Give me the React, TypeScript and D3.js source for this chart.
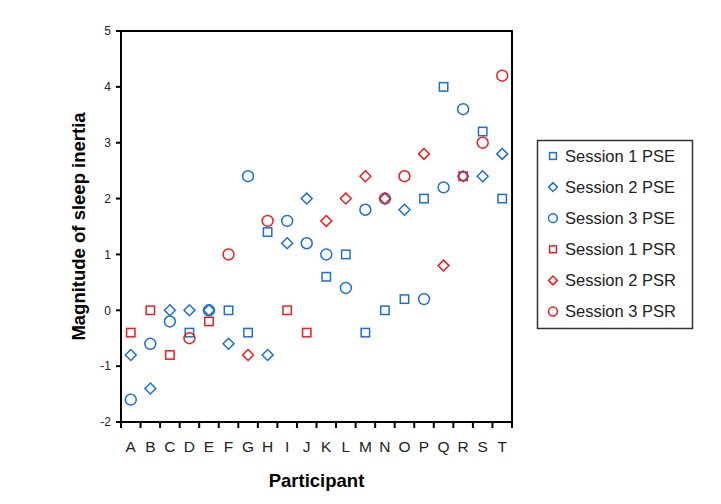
import React from "react";
import * as d3 from "d3";

const participants = ["A","B","C","D","E","F","G","H","I","J","K","L","M","N","O","P","Q","R","S","T"];
const session1PSE: (number | null)[] = [null,null,null,-0.4,null,0,-0.4,1.4,null,null,0.6,1.0,-0.4,0,0.2,2.0,4.0,null,3.2,2.0];
const session2PSE: (number | null)[] = [-0.8,-1.4,0,0,0,-0.6,null,-0.8,1.2,2.0,null,null,null,null,1.8,null,null,2.4,2.4,2.8];
const session3PSE: (number | null)[] = [-1.6,-0.6,-0.2,null,0,null,2.4,null,1.6,1.2,1.0,0.4,1.8,2.0,null,0.2,2.2,3.6,null,null];
const session1PSR: (number | null)[] = [-0.4,0,-0.8,null,-0.2,null,null,null,0,-0.4,null,null,null,null,null,null,null,2.4,null,null];
const session2PSR: (number | null)[] = [null,null,null,null,null,null,-0.8,null,null,null,1.6,2.0,2.4,2.0,null,2.8,0.8,null,null,null];
const session3PSR: (number | null)[] = [null,null,null,-0.5,null,1.0,null,1.6,null,null,null,null,null,null,2.4,null,null,null,3.0,4.2];
const yTicks = [-2,-1,0,1,2,3,4,5];

const BLUE = "#1b6fd3";
const RED = "#f01c1c";

const series = [
  { name: "Session 1 PSE", values: session1PSE, shape: "square", color: BLUE },
  { name: "Session 2 PSE", values: session2PSE, shape: "diamond", color: BLUE },
  { name: "Session 3 PSE", values: session3PSE, shape: "circle", color: BLUE },
  { name: "Session 1 PSR", values: session1PSR, shape: "square", color: RED },
  { name: "Session 2 PSR", values: session2PSR, shape: "diamond", color: RED },
  { name: "Session 3 PSR", values: session3PSR, shape: "circle", color: RED },
];

function Marker({ shape, x, y, color, s }: { shape: string; x: number; y: number; color: string; s: number }) {
  const sw = 1.5;
  if (shape === "square") {
    const h = s * 0.8;
    return <rect x={x - h / 2} y={y - h / 2} width={h} height={h} fill="none" stroke={color} strokeWidth={sw} />;
  }
  if (shape === "diamond") {
    const h = s * 0.52;
    return <path d={`M${x},${y - h}L${x + h},${y}L${x},${y + h}L${x - h},${y}Z`} fill="none" stroke={color} strokeWidth={sw} />;
  }
  return <circle cx={x} cy={y} r={s * 0.52} fill="none" stroke={color} strokeWidth={sw} />;
}

export default function App() {
  const left = 121, right = 512, top = 31, bottom = 422;
  const x = d3.scaleBand<string>().domain(participants).range([left, right]).padding(0);
  const y = d3.scaleLinear().domain([-2, 5]).range([bottom, top]);
  const bw = x.bandwidth();
  const xTickPos = participants.map((p) => x(p) as number).concat([right]);
  const font = "Arial, 'Liberation Sans', sans-serif";

  return (
    <svg width={721} height={504} style={{ position: "absolute", left: 0, top: 0, background: "#fff" }} fontFamily={font}>
      {/* frame */}
      <rect x={left} y={top} width={right - left} height={bottom - top} fill="none" stroke="#000" strokeWidth={2} />
      {/* y ticks */}
      {yTicks.map((t) => (
        <g key={t}>
          <line x1={left - 5} x2={left} y1={y(t)} y2={y(t)} stroke="#000" strokeWidth={2} />
          <text x={left - 10} y={y(t)} dy="0.36em" textAnchor="end" fontSize={12} fill="#222">{t}</text>
        </g>
      ))}
      {/* x ticks */}
      {xTickPos.map((p, i) => (
        <line key={i} x1={p} x2={p} y1={bottom} y2={bottom + 6} stroke="#000" strokeWidth={2} />
      ))}
      {participants.map((p) => (
        <text key={p} x={(x(p) as number) + bw / 2} y={452} textAnchor="middle" fontSize={15.5} fill="#222">{p}</text>
      ))}
      {/* axis titles */}
      <text x={(left + right) / 2} y={487} textAnchor="middle" fontSize={18.5} fontWeight="bold" fill="#000">Participant</text>
      <text transform={`translate(85,${(top + bottom) / 2}) rotate(-90)`} textAnchor="middle" fontSize={18.5} fontWeight="bold" fill="#000">Magnitude of sleep inertia</text>
      {/* points */}
      {series.map((s) => (
        <g key={s.name}>
          {s.values.map((v, i) =>
            v === null ? null : (
              <Marker key={i} shape={s.shape} x={(x(participants[i]) as number) + bw / 2} y={y(v)} color={s.color} s={10.5} />
            )
          )}
        </g>
      ))}
      {/* legend */}
      <rect x={537.5} y={140.5} width={155} height={188} fill="#fff" stroke="#333" strokeWidth={1.5} />
      {series.map((s, i) => {
        const cy = 156 + i * 31.1;
        return (
          <g key={s.name}>
            <Marker shape={s.shape} x={553} y={cy} color={s.color} s={8.5} />
            <text x={565} y={cy} dy="0.36em" fontSize={16.5} fill="#222">{s.name}</text>
          </g>
        );
      })}
    </svg>
  );
}
